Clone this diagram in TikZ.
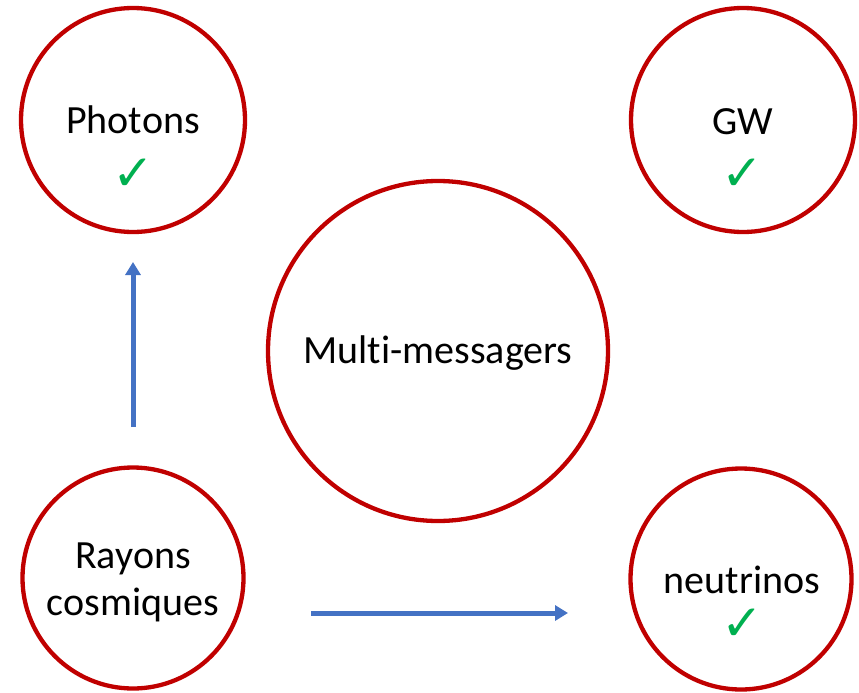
\documentclass[tikz,border=0pt]{standalone}
\usepackage{fontspec}
\setmainfont{Carlito}[Ligatures=NoCommon,Contextuals=NoAlternate]
\newfontfamily\symfont{DejaVu Sans}
\usetikzlibrary{arrows.meta}
\definecolor{ringred}{RGB}{192,0,0}
\definecolor{arrowblue}{RGB}{68,114,196}
\definecolor{checkgreen}{RGB}{0,176,80}
\begin{document}
\begin{tikzpicture}[x=1pt,y=-1pt,
  ring/.style={circle,draw=ringred,line width=4.3pt,inner sep=0pt,fill=none},
  label/.style={font=\fontsize{40}{47}\selectfont,anchor=base,inner sep=0pt},
  tick/.style={font=\symfont\fontsize{50}{50}\selectfont,text=checkgreen,inner sep=0pt},
  flow/.style={draw=arrowblue,line width=5pt,-{Triangle[length=13pt,width=15pt]}}]
\useasboundingbox (0,0) rectangle (859,693);
\node[ring,minimum size=224pt] (photons) at (133,120) {};
\node[ring,minimum size=224pt] (gw) at (743,120) {};
\node[ring,minimum size=340pt] (multi) at (438,351) {};
\node[ring,minimum size=221pt] (rayons) at (133,578) {};
\node[ring,minimum size=221pt] (neutrinos) at (741,579) {};
\node[label] (tphotons) at (133,133) {Photons};
\node[tick] (cphotons) at (133,175) {✓};
\node[label] (tgw) at (743,134) {GW};
\node[tick] (cgw) at (742,175) {✓};
\node[label] (tmulti) at (438,363) {Mult\kern0pt i-messagers};
\node[label,align=center] (trayons) at (133,615) {Rayons\\cosmiques};
\node[label] (tneutrinos) at (742,593) {neutrinos};
\node[tick] (cneutrinos) at (742,625) {✓};
\coordinate (a1s) at (133,427);
\coordinate (a1e) at (133,262);
\coordinate (a2s) at (311,613);
\coordinate (a2e) at (568,613);
\draw[flow] (a1s) -- (a1e);
\draw[flow] (a2s) -- (a2e);
\end{tikzpicture}
\end{document}
